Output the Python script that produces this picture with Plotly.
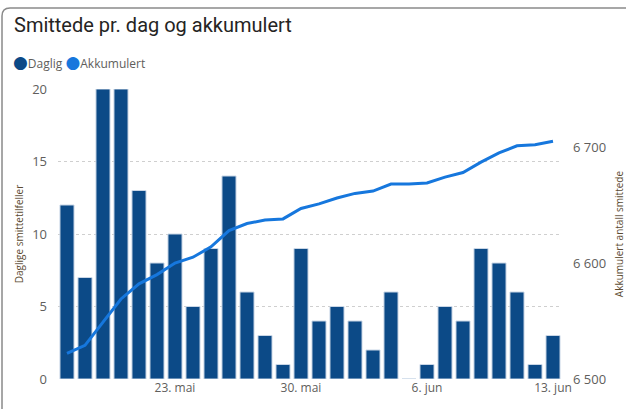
import plotly.graph_objects as go

# data
dates = [
    "2021-05-17", "2021-05-18", "2021-05-19", "2021-05-20", "2021-05-21", "2021-05-22", "2021-05-23",
    "2021-05-24", "2021-05-25", "2021-05-26", "2021-05-27", "2021-05-28", "2021-05-29", "2021-05-30",
    "2021-05-31", "2021-06-01", "2021-06-02", "2021-06-03", "2021-06-04", "2021-06-05", "2021-06-06",
    "2021-06-07", "2021-06-08", "2021-06-09", "2021-06-10", "2021-06-11", "2021-06-12", "2021-06-13",
]
daglig = [12, 7, 20, 20, 13, 8, 10, 5, 9, 14, 6, 3, 1, 9,
          4, 5, 4, 2, 6, 0, 1, 5, 4, 9, 8, 6, 1, 3]
akkumulert = [6522, 6529, 6549, 6569, 6582, 6590, 6600, 6605, 6614, 6628, 6634, 6637, 6638, 6647,
              6651, 6656, 6660, 6662, 6668, 6668, 6669, 6674, 6678, 6687, 6695, 6701, 6702, 6705]

x_tickvals = ["2021-05-23", "2021-05-30", "2021-06-06", "2021-06-13"]
x_ticktext = ["23. mai", "30. mai", "6. jun", "13. jun"]
y_tickvals = [0, 5, 10, 15, 20]
y2_tickvals = [6500, 6600, 6700]
y2_ticktext = ["6 500", "6 600", "6 700"]

BAR_COLOR = "#0C4A87"
LINE_COLOR = "#1677DD"
FONT = "Open Sans, DejaVu Sans, sans-serif"
TICK_FONT = dict(family=FONT, size=13, color="#605E5C")

fig = go.Figure()

fig.add_trace(go.Bar(
    x=dates, y=daglig, name="Daglig",
    marker=dict(color=BAR_COLOR, line=dict(color="#C9D6E6", width=1)),
))
fig.add_trace(go.Scatter(
    x=dates, y=akkumulert, name="Akkumulert", yaxis="y2",
    mode="lines", line=dict(color=LINE_COLOR, width=3),
))

# legend drawn as text with round markers, like the original
legend_text = (
    f"<span style='color:{BAR_COLOR};font-size:17px'>●</span>Daglig "
    f"<span style='color:{LINE_COLOR};font-size:17px'>●</span>Akkumulert"
)
fig.add_annotation(text=legend_text, xref="paper", yref="paper",
                   x=(11 - 58) / 504, y=1 + (89 - 61) / 290, xanchor="left", yanchor="middle",
                   showarrow=False, font=dict(family=FONT, size=12, color="#605E5C"))

# card border with rounded top-left corner
fig.add_shape(type="path", xref="paper", yref="paper", layer="below",
              path="M -0.1111,-0.2 L -0.1111,1.2517 Q -0.1111,1.2793 -0.0952,1.2793 L 1.2,1.2793",
              line=dict(color="#8A8A8A", width=1.5))

fig.update_layout(
    width=626, height=409,
    margin=dict(l=58, r=64, t=89, b=30),
    paper_bgcolor="white", plot_bgcolor="white",
    bargap=0.22,
    showlegend=False,
    title=dict(text="Smittede pr. dag og akkumulert",
               font=dict(family="Roboto, DejaVu Sans, sans-serif", size=20, color="#252423"),
               xref="container", x=14 / 626, xanchor="left",
               yref="container", y=1 - 25 / 409, yanchor="middle"),
    xaxis=dict(type="date", range=["2021-05-16 12:00", "2021-06-13 12:00"],
               tickvals=x_tickvals, ticktext=x_ticktext, automargin=False,
               tickfont=dict(family=FONT, size=12, color="#605E5C"),
               showgrid=False, zeroline=False, showline=False, ticks=""),
    yaxis=dict(range=[0, 20], tickvals=y_tickvals, tickfont=TICK_FONT,
               showgrid=True, gridcolor="#CFCFCF", griddash="dot", gridwidth=1,
               zeroline=False, showline=False, ticklabelstandoff=10, automargin=False,
               title=dict(text="Daglige smittetilfeller", standoff=6,
                          font=dict(family=FONT, size=10, color="#5B4B32"))),
    yaxis2=dict(range=[6500, 6750], overlaying="y", side="right",
                tickvals=y2_tickvals, ticktext=y2_ticktext, tickfont=TICK_FONT,
                showgrid=False, zeroline=False, showline=False, ticklabelstandoff=10,
                automargin=False,
                title=dict(text="Akkumulert antall smittede", standoff=14,
                           font=dict(family=FONT, size=10, color="#5B4B32"))),
)

# remove the default page margin so the figure sits at the window's corner
fig.write_html("out.html", config={"displayModeBar": False},
               post_script="document.body.style.margin='0px';")
